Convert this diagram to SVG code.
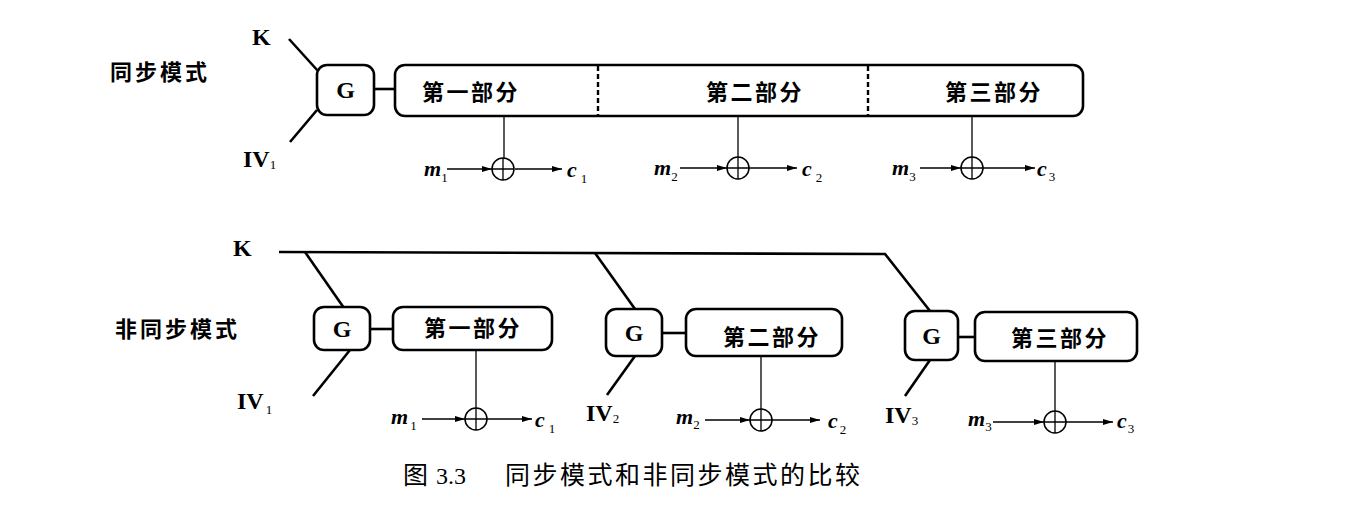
<svg xmlns="http://www.w3.org/2000/svg" width="1366" height="514" viewBox="0 0 1366 514">
<style>
.box{fill:#fff;stroke:#000;stroke-width:2.6}
.thick{fill:none;stroke:#000;stroke-width:2.6}
.thin{fill:none;stroke:#000;stroke-width:1.3}
.arr{fill:none;stroke:#000;stroke-width:1.3;marker-end:url(#ah)}
.dash{fill:none;stroke:#000;stroke-width:2.4;stroke-dasharray:5 3}
.xor{fill:#fff;stroke:#000;stroke-width:1.5}
.cjkb{font-family:"Noto Sans CJK SC",sans-serif;font-weight:bold;font-size:22px;fill:#000}
.cap{font-family:"Noto Sans CJK SC",sans-serif;font-size:25px;fill:#000}
.ser{font-family:"Liberation Serif",serif;font-weight:bold;font-size:24px;fill:#000}
.it{font-family:"Liberation Serif",serif;font-style:italic;font-weight:bold;font-size:22px;fill:#000}
.sub{font-size:13px;font-style:normal;font-weight:normal}
</style>
<defs>
<marker id="ah" viewBox="0 0 10 6" refX="10" refY="3" markerWidth="10" markerHeight="6" markerUnits="userSpaceOnUse" orient="auto">
<path d="M0,0 L10,3 L0,6 Z" fill="#000"/>
</marker>
</defs>
<rect width="1366" height="514" fill="#fff"/>

<g id="connectors">
<line class="thick" x1="289" y1="39" x2="318" y2="71"/>
<line class="thick" x1="317" y1="110" x2="290" y2="142"/>
<line class="thick" x1="374" y1="89" x2="395" y2="89"/>
<line class="thin" x1="504" y1="116" x2="504" y2="158"/>
<line class="thin" x1="738" y1="116" x2="738" y2="157"/>
<line class="thin" x1="972" y1="116" x2="972" y2="157"/>
<line class="arr" x1="447" y1="169" x2="492" y2="169"/>
<line class="arr" x1="515" y1="169" x2="562" y2="169"/>
<line class="arr" x1="680" y1="168" x2="727" y2="168"/>
<line class="arr" x1="749" y1="168" x2="797" y2="168"/>
<line class="arr" x1="920" y1="168" x2="961" y2="168"/>
<line class="arr" x1="983" y1="168" x2="1035" y2="168"/>
<polyline class="thick" points="279,252 885,254 930,311"/>
<line class="thick" x1="305" y1="252" x2="344" y2="308"/>
<line class="thick" x1="595" y1="253" x2="635" y2="309"/>
<line class="thick" x1="350" y1="350" x2="313" y2="396"/>
<line class="thick" x1="635" y1="356" x2="607" y2="395"/>
<line class="thick" x1="930" y1="360" x2="905" y2="396"/>
<line class="thick" x1="370" y1="329" x2="393" y2="329"/>
<line class="thick" x1="662" y1="333" x2="686" y2="333"/>
<line class="thick" x1="958" y1="337" x2="975" y2="337"/>
<line class="thin" x1="476" y1="350" x2="476" y2="408"/>
<line class="thin" x1="761" y1="356" x2="761" y2="409"/>
<line class="thin" x1="1055" y1="361" x2="1055" y2="411"/>
<line class="arr" x1="422" y1="419" x2="465" y2="419"/>
<line class="arr" x1="487" y1="419" x2="532" y2="419"/>
<line class="arr" x1="705" y1="420" x2="750" y2="420"/>
<line class="arr" x1="772" y1="420" x2="820" y2="420"/>
<line class="arr" x1="993" y1="422" x2="1044" y2="422"/>
<line class="arr" x1="1066" y1="422" x2="1113" y2="422"/>
</g>

<g id="label-sync"><text class="cjkb" x="110" y="80" letter-spacing="3">同步模式</text></g>
<g id="label-async"><text class="cjkb" x="115" y="337" letter-spacing="3">非同步模式</text></g>

<g id="top-K"><text class="ser" x="252" y="45">K</text></g>
<g id="top-IV1"><text class="ser" x="243" y="167">IV<tspan class="sub" dy="2">1</tspan></text></g>

<g id="top-G">
<rect class="box" x="317" y="65" width="57" height="50" rx="10"/>
<text class="ser" x="345.5" y="98" text-anchor="middle">G</text>
</g>

<g id="top-bar">
<rect class="box" x="395" y="65" width="688" height="51" rx="10"/>
<line class="dash" x1="598" y1="66" x2="598" y2="115"/>
<line class="dash" x1="868" y1="66" x2="868" y2="115"/>
<text class="cjkb" x="471" y="100" text-anchor="middle" letter-spacing="2.5">第一部分</text>
<text class="cjkb" x="755" y="100" text-anchor="middle" letter-spacing="2.5">第二部分</text>
<text class="cjkb" x="994" y="100" text-anchor="middle" letter-spacing="2.5">第三部分</text>
</g>

<g id="top-xor1">
<circle class="xor" cx="503" cy="169" r="11"/>
<path class="thin" d="M492,169 H514 M503,158 V180"/>
<text class="it" x="424" y="176">m<tspan class="sub" dy="6">1</tspan></text>
<text class="it" x="567" y="177">c<tspan class="sub" dx="4" dy="6">1</tspan></text>
</g>
<g id="top-xor2">
<circle class="xor" cx="738" cy="168" r="11"/>
<path class="thin" d="M727,168 H749 M738,157 V179"/>
<text class="it" x="654" y="175">m<tspan class="sub" dy="6">2</tspan></text>
<text class="it" x="802" y="176">c<tspan class="sub" dx="4" dy="6">2</tspan></text>
</g>
<g id="top-xor3">
<circle class="xor" cx="972" cy="168" r="11"/>
<path class="thin" d="M961,168 H983 M972,157 V179"/>
<text class="it" x="892" y="175">m<tspan class="sub" dy="6">3</tspan></text>
<text class="it" x="1037" y="176">c<tspan class="sub" dx="2" dy="5">3</tspan></text>
</g>

<g id="bot-K"><text class="ser" x="233" y="256">K</text></g>

<g id="bot-G1">
<rect class="box" x="314" y="307" width="56" height="43" rx="10"/>
<text class="ser" x="342" y="337" text-anchor="middle">G</text>
</g>
<g id="bot-part1">
<rect class="box" x="393" y="307" width="159" height="43" rx="10"/>
<text class="cjkb" x="473" y="336" text-anchor="middle" letter-spacing="2.5">第一部分</text>
</g>
<g id="bot-IV1"><text class="ser" x="237" y="409">IV<tspan class="sub" dx="2" dy="5">1</tspan></text></g>
<g id="bot-xor1">
<circle class="xor" cx="476" cy="419" r="11"/>
<path class="thin" d="M465,419 H487 M476,408 V430"/>
<text class="it" x="391" y="424">m<tspan class="sub" dx="2" dy="6">1</tspan></text>
<text class="it" x="535" y="427">c<tspan class="sub" dx="4" dy="6">1</tspan></text>
</g>

<g id="bot-G2">
<rect class="box" x="606" y="309" width="56" height="47" rx="10"/>
<text class="ser" x="634" y="341" text-anchor="middle">G</text>
</g>
<g id="bot-part2">
<rect class="box" x="686" y="309" width="156" height="47" rx="10"/>
<text class="cjkb" x="772" y="345" text-anchor="middle" letter-spacing="2.5">第二部分</text>
</g>
<g id="bot-IV2"><text class="ser" x="586" y="421">IV<tspan class="sub" dy="2">2</tspan></text></g>
<g id="bot-xor2">
<circle class="xor" cx="761" cy="420" r="11"/>
<path class="thin" d="M750,420 H772 M761,409 V431"/>
<text class="it" x="676" y="424">m<tspan class="sub" dy="5">2</tspan></text>
<text class="it" x="828" y="428">c<tspan class="sub" dx="2" dy="6">2</tspan></text>
</g>

<g id="bot-G3">
<rect class="box" x="905" y="311" width="53" height="49" rx="10"/>
<text class="ser" x="931.5" y="344" text-anchor="middle">G</text>
</g>
<g id="bot-part3">
<rect class="box" x="975" y="312" width="162" height="49" rx="10"/>
<text class="cjkb" x="1060" y="346" text-anchor="middle" letter-spacing="2.5">第三部分</text>
</g>
<g id="bot-IV3"><text class="ser" x="885" y="423">IV<tspan class="sub" dy="2">3</tspan></text></g>
<g id="bot-xor3">
<circle class="xor" cx="1055" cy="422" r="11"/>
<path class="thin" d="M1044,422 H1066 M1055,411 V433"/>
<text class="it" x="968" y="426">m<tspan class="sub" dy="5">3</tspan></text>
<text class="it" x="1117" y="428">c<tspan class="sub" dx="1" dy="5">3</tspan></text>
</g>

<g id="caption">
<text class="cap" x="403" y="484">图</text>
<text x="436" y="484" font-family="Liberation Serif, serif" font-size="24" fill="#000">3.3</text>
<text class="cap" x="505" y="484" letter-spacing="2.5">同步模式和非同步模式的比较</text>
</g>
</svg>
